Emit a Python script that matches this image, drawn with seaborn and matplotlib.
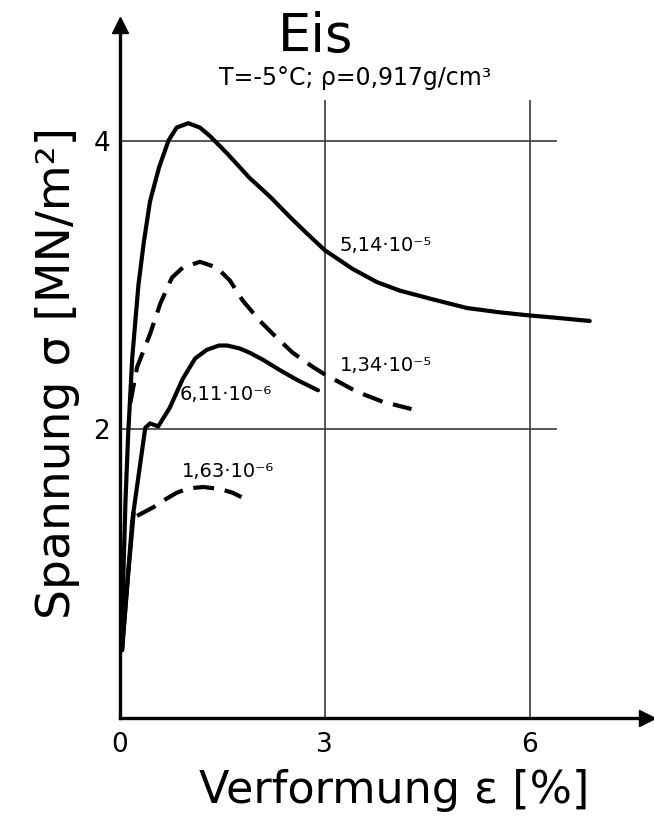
import matplotlib
matplotlib.use("Agg")
import matplotlib.pyplot as plt
import seaborn as sns

# stress-strain curves of ice (strain in %, stress in MN/m^2)
eps_514 = [0.03, 0.05, 0.08, 0.12, 0.18, 0.27, 0.35, 0.44, 0.57, 0.71, 0.83, 1.0, 1.17, 1.32,
           1.57, 1.9, 2.2, 2.49, 2.73, 3.0, 3.41, 3.76, 4.1, 4.58, 5.08, 5.56, 5.96, 6.44, 6.88]
sig_514 = [0.47, 1.0, 1.5, 1.97, 2.5, 3.0, 3.3, 3.58, 3.81, 4.0, 4.09, 4.12, 4.09, 4.03,
           3.91, 3.74, 3.61, 3.47, 3.36, 3.24, 3.11, 3.02, 2.96, 2.9, 2.84, 2.81, 2.79, 2.77, 2.75]

eps_134 = [0.15, 0.25, 0.44, 0.59, 0.76, 0.92, 1.17, 1.42, 1.61, 1.8, 2.05, 2.24, 2.53, 2.83,
           3.0, 3.47, 3.85, 4.27]
sig_134 = [2.18, 2.43, 2.66, 2.87, 3.05, 3.12, 3.16, 3.12, 3.03, 2.89, 2.75, 2.66, 2.53, 2.43,
           2.38, 2.26, 2.19, 2.14]

eps_611 = [0.03, 0.18, 0.37, 0.44, 0.56, 0.73, 0.92, 1.1, 1.27, 1.45, 1.57, 1.75, 1.9, 2.1,
           2.34, 2.6, 2.9]
sig_611 = [0.47, 1.37, 2.01, 2.04, 2.02, 2.15, 2.35, 2.49, 2.55, 2.58, 2.58, 2.56, 2.53, 2.48,
           2.41, 2.34, 2.27]

# initial loading line (solid) and creep part (dashed) of the slowest test
eps_163_load = [0.03, 0.12, 0.2]
sig_163_load = [0.47, 1.0, 1.42]
eps_163 = [0.25, 0.49, 0.65, 0.83, 1.0, 1.22, 1.4, 1.51, 1.65, 1.78]
sig_163 = [1.40, 1.46, 1.51, 1.56, 1.59, 1.6, 1.59, 1.58, 1.56, 1.53]

rate_labels = ["5,14·10⁻⁵", "1,34·10⁻⁵", "6,11·10⁻⁶", "1,63·10⁻⁶"]
label_pos = [(3.22, 3.27), (3.22, 2.44), (0.88, 2.24), (0.91, 1.71)]

x_ticks = [0, 3, 6]
y_ticks = [2, 4]

sns.set_style("white")
plt.rcParams['font.family'] = ['DejaVu Sans']
plt.rcParams['text.color'] = 'black'
plt.rcParams['axes.labelcolor'] = 'black'
plt.rcParams['xtick.color'] = 'black'
plt.rcParams['ytick.color'] = 'black'

fig = plt.figure(figsize=(6.54, 8.21), dpi=100)
ax = fig.add_axes([0.1835, 0.1255, 0.81, 0.844])
ax.set_xlim(0, 7.76)
ax.set_ylim(0, 4.8)

# grid lines of the drawing
ax.hlines(y_ticks, 0, 6.4, color='#3a3a3a', lw=1.2)
ax.vlines(x_ticks[1:], 0, 4.28, color='#3a3a3a', lw=1.2)

solid = dict(color='black', lw=3.0)
dashed = dict(color='black', lw=3.0, linestyle=(0, (5, 2.6)))
sns.lineplot(x=eps_514, y=sig_514, sort=False, ax=ax, **solid)
sns.lineplot(x=eps_134, y=sig_134, sort=False, ax=ax, **dashed)
sns.lineplot(x=eps_611, y=sig_611, sort=False, ax=ax, **solid)
sns.lineplot(x=eps_163_load, y=sig_163_load, sort=False, ax=ax, **solid)
sns.lineplot(x=eps_163, y=sig_163, sort=False, ax=ax, **dashed)

for txt, (x, y) in zip(rate_labels, label_pos):
    ax.text(x, y, txt, fontsize=14, va='center', ha='left')

# axes with arrows
for s in ['top', 'right']:
    ax.spines[s].set_visible(False)
ax.spines['left'].set_linewidth(2.4)
ax.spines['bottom'].set_linewidth(2.4)
ax.spines['left'].set_color('black')
ax.spines['bottom'].set_color('black')
ax.plot(0.995, 0, '>k', ms=11, transform=ax.transAxes, clip_on=False)
ax.plot(0, 1, '^k', ms=11, transform=ax.transAxes, clip_on=False)

ax.set_xticks(x_ticks)
ax.set_yticks(y_ticks)
ax.tick_params(length=0, labelsize=19)
ax.tick_params(axis='x', pad=10)
ax.tick_params(axis='y', pad=7)

ax.set_xlabel('Verformung ε [%]', fontsize=32)
ax.xaxis.set_label_coords(0.517, -0.074)
ax.set_ylabel('Spannung σ [MN/m²]', fontsize=34)
ax.yaxis.set_label_coords(-0.076, 0.498)

fig.text(0.483, 0.9367, 'Eis', fontsize=38, ha='center', va='baseline')
fig.text(0.543, 0.8965, 'T=-5°C; ρ=0,917g/cm³', fontsize=17, ha='center', va='baseline')

fig.savefig('out.png', dpi=100)
